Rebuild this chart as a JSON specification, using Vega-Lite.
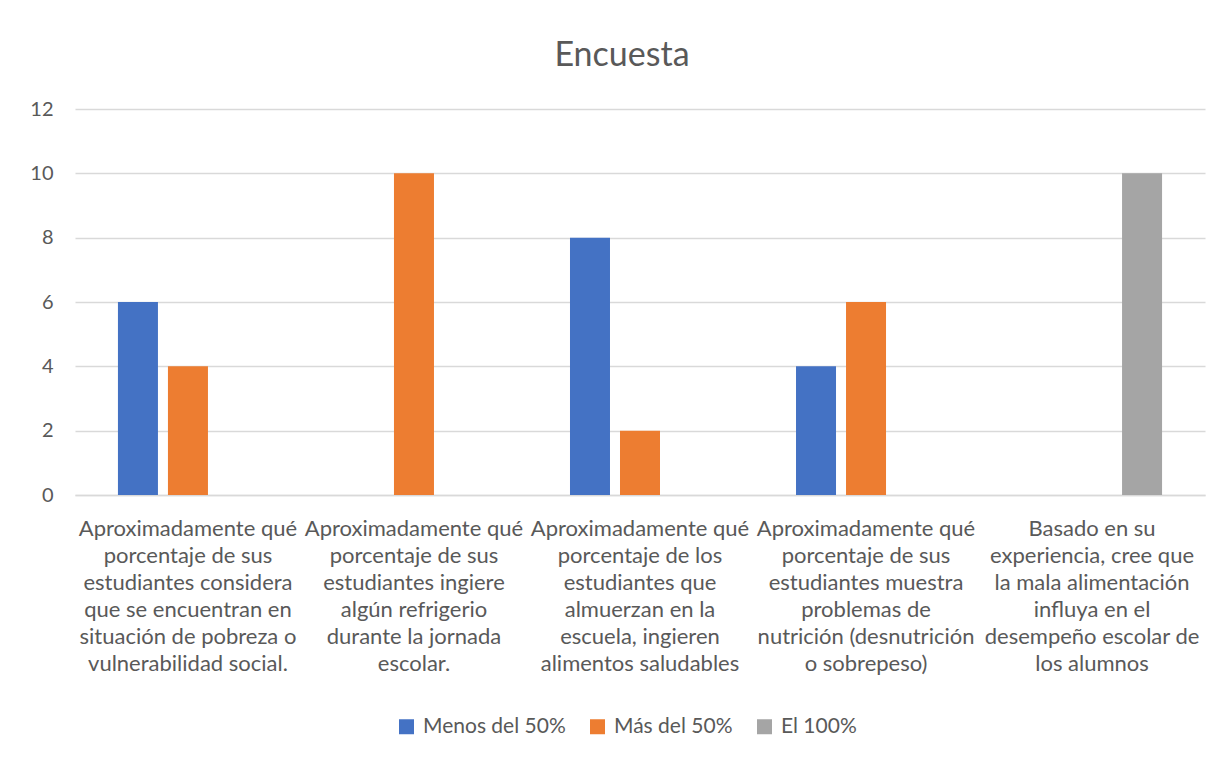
{
  "$schema": "https://vega.github.io/schema/vega-lite/v6.json",
  "autosize": {"type": "none"},
  "width": 1130,
  "height": 386,
  "padding": {"left": 75, "top": 109, "right": 17, "bottom": 263},
  "background": "white",
  "title": {
    "text": "Encuesta",
    "font": "Lato",
    "fontSize": 34,
    "fontWeight": "normal",
    "color": "#595959",
    "anchor": "middle",
    "dx": -18,
    "offset": 26
  },
  "data": {
    "values": [
      {"pregunta": "Aproximadamente qué|porcentaje de sus|estudiantes considera|que se encuentran en|situación de pobreza o|vulnerabilidad social.", "orden": 1, "serie": "Menos del 50%", "valor": 6},
      {"pregunta": "Aproximadamente qué|porcentaje de sus|estudiantes considera|que se encuentran en|situación de pobreza o|vulnerabilidad social.", "orden": 1, "serie": "Más del 50%", "valor": 4},
      {"pregunta": "Aproximadamente qué|porcentaje de sus|estudiantes considera|que se encuentran en|situación de pobreza o|vulnerabilidad social.", "orden": 1, "serie": "El 100%", "valor": 0},
      {"pregunta": "Aproximadamente qué|porcentaje de sus|estudiantes ingiere|algún refrigerio|durante la jornada|escolar.", "orden": 2, "serie": "Menos del 50%", "valor": 0},
      {"pregunta": "Aproximadamente qué|porcentaje de sus|estudiantes ingiere|algún refrigerio|durante la jornada|escolar.", "orden": 2, "serie": "Más del 50%", "valor": 10},
      {"pregunta": "Aproximadamente qué|porcentaje de sus|estudiantes ingiere|algún refrigerio|durante la jornada|escolar.", "orden": 2, "serie": "El 100%", "valor": 0},
      {"pregunta": "Aproximadamente qué|porcentaje de los|estudiantes que|almuerzan en la|escuela, ingieren|alimentos saludables", "orden": 3, "serie": "Menos del 50%", "valor": 8},
      {"pregunta": "Aproximadamente qué|porcentaje de los|estudiantes que|almuerzan en la|escuela, ingieren|alimentos saludables", "orden": 3, "serie": "Más del 50%", "valor": 2},
      {"pregunta": "Aproximadamente qué|porcentaje de los|estudiantes que|almuerzan en la|escuela, ingieren|alimentos saludables", "orden": 3, "serie": "El 100%", "valor": 0},
      {"pregunta": "Aproximadamente qué|porcentaje de sus|estudiantes muestra|problemas de|nutrición (desnutrición|o sobrepeso)", "orden": 4, "serie": "Menos del 50%", "valor": 4},
      {"pregunta": "Aproximadamente qué|porcentaje de sus|estudiantes muestra|problemas de|nutrición (desnutrición|o sobrepeso)", "orden": 4, "serie": "Más del 50%", "valor": 6},
      {"pregunta": "Aproximadamente qué|porcentaje de sus|estudiantes muestra|problemas de|nutrición (desnutrición|o sobrepeso)", "orden": 4, "serie": "El 100%", "valor": 0},
      {"pregunta": "Basado en su|experiencia, cree que|la mala alimentación|influya en el|desempeño escolar de|los alumnos", "orden": 5, "serie": "Menos del 50%", "valor": 0},
      {"pregunta": "Basado en su|experiencia, cree que|la mala alimentación|influya en el|desempeño escolar de|los alumnos", "orden": 5, "serie": "Más del 50%", "valor": 0},
      {"pregunta": "Basado en su|experiencia, cree que|la mala alimentación|influya en el|desempeño escolar de|los alumnos", "orden": 5, "serie": "El 100%", "valor": 10}
    ]
  },
  "mark": {"type": "bar"},
  "encoding": {
    "x": {
      "field": "pregunta",
      "type": "nominal",
      "sort": {"field": "orden", "op": "min"},
      "scale": {"paddingInner": 0.3805, "paddingOuter": 0.19},
      "axis": {
        "title": null,
        "labelAngle": 0,
        "labelExpr": "split(datum.label, '|')",
        "labelFont": "Lato",
        "labelFontSize": 22,
        "labelColor": "#595959",
        "labelLineHeight": 27,
        "labelPadding": 23,
        "labelLimit": 0,
        "ticks": false,
        "domainColor": "#D9D9D9",
        "domainWidth": 1.5,
        "grid": false
      }
    },
    "xOffset": {
      "field": "serie",
      "type": "nominal",
      "sort": ["Menos del 50%", "Más del 50%", "El 100%"],
      "scale": {"paddingInner": 0.2, "paddingOuter": 0}
    },
    "y": {
      "field": "valor",
      "type": "quantitative",
      "scale": {"domain": [0, 12]},
      "axis": {
        "title": null,
        "values": [0, 2, 4, 6, 8, 10, 12],
        "labelFont": "Lato",
        "labelFontSize": 20,
        "labelColor": "#595959",
        "labelPadding": 22,
        "ticks": false,
        "domain": false,
        "gridColor": "#D9D9D9",
        "gridWidth": 1.5
      }
    },
    "color": {
      "field": "serie",
      "type": "nominal",
      "sort": ["Menos del 50%", "Más del 50%", "El 100%"],
      "scale": {"domain": ["Menos del 50%", "Más del 50%", "El 100%"], "range": ["#4472C4", "#ED7D31", "#A5A5A5"]},
      "legend": {
        "title": null,
        "orient": "none",
        "legendX": 321,
        "legendY": 607,
        "direction": "horizontal",
        "symbolType": "square",
        "symbolSize": 225,
        "symbolStrokeWidth": 0,
        "labelFont": "Lato",
        "labelFontSize": 21,
        "labelColor": "#595959",
        "labelOffset": 6,
        "columnPadding": 21
      }
    }
  },
  "config": {
    "view": {"stroke": null},
    "legend": {"symbolOpacity": 1}
  }
}
